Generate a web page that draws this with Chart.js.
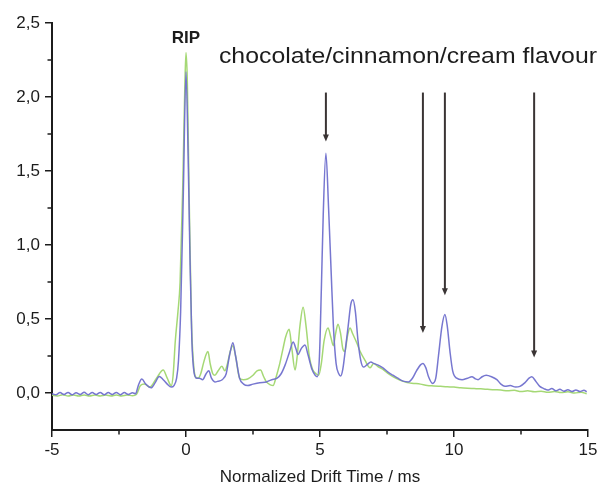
<!DOCTYPE html>
<html><head><meta charset="utf-8">
<script src="https://cdn.jsdelivr.net/npm/chart.js@4.4.1/dist/chart.umd.min.js"></script>
<style>html,body{margin:0;padding:0;background:#fff;}#wrap{width:601px;height:488px;position:relative;}</style>
</head><body><div id="wrap"><canvas id="c"></canvas></div>
<script>
// ---- data (drift time in ms, intensity) ----
const blueTime = [-5.0,-4.85,-4.7,-4.55,-4.4,-4.25,-4.1,-3.95,-3.8,-3.65,-3.5,-3.35,-3.2,-3.05,-2.9,-2.75,-2.6,-2.45,-2.3,-2.15,-2.0,-1.88,-1.78,-1.65,-1.5,-1.3,-1.15,-1.0,-0.85,-0.7,-0.55,-0.45,-0.35,-0.28,-0.2,-0.1,0,0.08,0.15,0.22,0.3,0.4,0.5,0.62,0.75,0.85,0.95,1.08,1.2,1.35,1.5,1.62,1.75,1.85,2.0,2.15,2.3,2.5,2.75,3.0,3.2,3.4,3.55,3.7,3.85,4.0,4.1,4.18,4.3,4.44,4.55,4.7,4.82,4.9,4.98,5.05,5.12,5.22,5.32,5.42,5.5,5.6,5.7,5.77,5.85,5.95,6.05,6.15,6.23,6.32,6.42,6.52,6.62,6.75,6.9,7.0,7.15,7.35,7.55,7.72,7.9,8.1,8.3,8.45,8.6,8.75,8.84,8.95,9.05,9.2,9.32,9.42,9.55,9.66,9.75,9.85,9.95,10.1,10.3,10.5,10.67,10.8,10.9,11.05,11.2,11.4,11.6,11.75,11.9,12.1,12.3,12.46,12.65,12.8,12.9,13.05,13.2,13.35,13.5,13.65,13.8,13.95,14.1,14.25,14.4,14.55,14.7,14.85,14.95];
const blueIntensity = [-0.005,-0.012,0.003,-0.01,0.004,-0.012,0.002,-0.01,0.005,-0.011,0.003,-0.01,0.004,-0.012,0.003,-0.01,0.004,-0.011,0.003,-0.01,0.002,-0.005,0.05,0.095,0.06,0.035,0.07,0.112,0.09,0.06,0.04,0.05,0.1,0.22,0.55,1.35,2.17,1.6,0.9,0.35,0.14,0.1,0.1,0.09,0.13,0.15,0.1,0.075,0.08,0.09,0.13,0.25,0.34,0.25,0.1,0.06,0.05,0.06,0.07,0.075,0.09,0.1,0.13,0.19,0.27,0.345,0.3,0.26,0.3,0.325,0.26,0.16,0.12,0.11,0.25,0.7,1.2,1.62,1.25,0.8,0.45,0.2,0.13,0.115,0.16,0.3,0.45,0.6,0.63,0.55,0.35,0.22,0.175,0.19,0.21,0.2,0.19,0.17,0.14,0.12,0.1,0.08,0.075,0.1,0.15,0.19,0.2,0.17,0.11,0.065,0.1,0.25,0.45,0.53,0.45,0.28,0.15,0.1,0.09,0.1,0.11,0.095,0.09,0.11,0.12,0.11,0.09,0.06,0.045,0.05,0.04,0.045,0.07,0.1,0.11,0.08,0.045,0.03,0.02,0.03,0.015,0.025,0.012,0.022,0.01,0.02,0.01,0.018,0.008];
const greenTime = [-5.0,-4.8,-4.6,-4.4,-4.2,-4.0,-3.8,-3.6,-3.4,-3.2,-3.0,-2.8,-2.6,-2.4,-2.2,-2.0,-1.85,-1.7,-1.55,-1.35,-1.1,-0.85,-0.7,-0.55,-0.48,-0.4,-0.3,-0.22,-0.12,-0.04,0,0.05,0.12,0.2,0.28,0.35,0.45,0.55,0.65,0.75,0.82,0.9,1.0,1.08,1.2,1.34,1.45,1.55,1.65,1.75,1.85,2.0,2.15,2.3,2.5,2.65,2.78,2.9,3.0,3.15,3.25,3.35,3.5,3.62,3.72,3.85,3.95,4.07,4.15,4.25,4.37,4.48,4.6,4.72,4.85,4.95,5.05,5.15,5.3,5.4,5.5,5.58,5.67,5.77,5.85,5.93,6.02,6.12,6.22,6.37,6.5,6.68,6.87,7.0,7.15,7.35,7.55,7.72,8.0,8.25,8.5,8.75,9.0,9.25,9.5,9.75,10.0,10.25,10.5,10.75,11.0,11.25,11.5,11.75,12.0,12.25,12.5,12.75,13.0,13.25,13.5,13.75,14.0,14.25,14.5,14.75,14.95];
const greenIntensity = [-0.015,-0.02,-0.012,-0.02,-0.013,-0.02,-0.013,-0.02,-0.013,-0.02,-0.014,-0.02,-0.013,-0.02,-0.014,-0.018,-0.01,0.05,0.06,0.04,0.1,0.155,0.1,0.05,0.12,0.35,0.55,0.75,1.4,2.1,2.3,2.1,1.3,0.5,0.2,0.11,0.1,0.13,0.2,0.26,0.28,0.2,0.13,0.12,0.15,0.18,0.15,0.2,0.28,0.32,0.25,0.1,0.09,0.095,0.12,0.15,0.155,0.11,0.075,0.055,0.05,0.1,0.2,0.3,0.38,0.43,0.3,0.155,0.25,0.45,0.58,0.45,0.25,0.16,0.13,0.12,0.2,0.35,0.44,0.38,0.32,0.4,0.465,0.4,0.3,0.28,0.38,0.44,0.4,0.34,0.28,0.22,0.17,0.2,0.18,0.16,0.13,0.11,0.085,0.07,0.065,0.06,0.05,0.048,0.045,0.042,0.04,0.035,0.032,0.03,0.028,0.025,0.022,0.02,0.015,0.018,0.01,0.015,0.008,0.012,0.005,0.01,0.003,0.008,0.0,0.005,-0.005];

// ---- axes ----
const xTicks = [-5, 0, 5, 10, 15];
const xMinorTicks = [-2.5, 2.5, 7.5, 12.5];
const yTicks = [0, 0.5, 1.0, 1.5, 2.0, 2.5];
const yMinorTicks = [0.25, 0.75, 1.25, 1.75, 2.25];
const xTitle = 'Normalized Drift Time / ms';

// ---- annotations (data coordinates) ----
const peakLabel = 'RIP';
const peakLabelAt = [0, 2.395];
const flavourLabel = 'chocolate/cinnamon/cream flavour';
const flavourLabelAt = [1.23, 2.23];
const arrowX = [5.22, 8.84, 9.66, 12.99];
const arrowTop = [2.03, 2.03, 2.03, 2.03];
const arrowTip = [1.70, 0.405, 0.66, 0.24];

const FONT = "'Liberation Sans', Arial, sans-serif";
const INK = '#1c1c1c';

const pts = (xs, ys) => xs.map((x, i) => ({x, y: ys[i]}));

const annot = {
  id: 'annot',
  afterDraw(chart) {
    const ctx = chart.ctx, xs = chart.scales.x, ys = chart.scales.y;
    ctx.save();
    // minor ticks
    ctx.strokeStyle = INK; ctx.lineWidth = 1.5;
    xMinorTicks.forEach(v => {
      const p = xs.getPixelForValue(v);
      ctx.beginPath(); ctx.moveTo(p, ys.bottom); ctx.lineTo(p, ys.bottom + 4.5); ctx.stroke();
    });
    yMinorTicks.forEach(v => {
      const p = ys.getPixelForValue(v);
      ctx.beginPath(); ctx.moveTo(xs.left, p); ctx.lineTo(xs.left - 4.5, p); ctx.stroke();
    });
    // arrows
    ctx.strokeStyle = '#3a3434'; ctx.fillStyle = '#3a3434'; ctx.lineWidth = 2;
    arrowX.forEach((v, i) => {
      const px = xs.getPixelForValue(v);
      const y0 = ys.getPixelForValue(arrowTop[i]);
      const y1 = ys.getPixelForValue(arrowTip[i]);
      ctx.beginPath(); ctx.moveTo(px, y0); ctx.lineTo(px, y1 - 6); ctx.stroke();
      ctx.beginPath(); ctx.moveTo(px - 3, y1 - 7); ctx.lineTo(px + 3, y1 - 7); ctx.lineTo(px, y1); ctx.closePath(); ctx.fill();
    });
    // labels
    ctx.fillStyle = INK;
    ctx.font = 'bold 17px ' + FONT;
    ctx.textAlign = 'center'; ctx.textBaseline = 'middle';
    ctx.fillText(peakLabel, xs.getPixelForValue(peakLabelAt[0]), ys.getPixelForValue(peakLabelAt[1]));
    ctx.font = '22px ' + FONT;
    ctx.textAlign = 'left'; ctx.textBaseline = 'alphabetic';
    const fx = xs.getPixelForValue(flavourLabelAt[0]), fy = ys.getPixelForValue(flavourLabelAt[1]);
    const w = ctx.measureText(flavourLabel).width;
    const target = chart.width - 4 - fx;
    ctx.translate(fx, fy); ctx.scale(target / w, 1);
    ctx.fillText(flavourLabel, 0, 0);
    ctx.restore();
  }
};

new Chart(document.getElementById('c'), {
  type: 'scatter',
  data: {
    datasets: [
      {data: pts(blueTime, blueIntensity), borderColor: 'rgba(112,112,206,0.95)', borderWidth: 1.5, showLine: true, pointRadius: 0, cubicInterpolationMode: 'monotone'},
      {data: pts(greenTime, greenIntensity), borderColor: 'rgba(160,214,110,0.95)', borderWidth: 1.5, showLine: true, pointRadius: 0, cubicInterpolationMode: 'monotone'}
    ]
  },
  options: {
    responsive: true, maintainAspectRatio: false, animation: false,
    layout: {padding: {top: 23, right: 13, left: 0, bottom: 0}},
    plugins: {legend: {display: false}, tooltip: {enabled: false}},
    scales: {
      x: {
        type: 'linear', min: -5, max: 15,
        afterBuildTicks: s => { s.ticks = xTicks.map(v => ({value: v})); },
        afterFit: s => { s.height = 58; },
        border: {display: true, color: INK, width: 2},
        grid: {display: true, drawOnChartArea: false, drawTicks: true, tickLength: 7, color: INK, lineWidth: 1.5},
        ticks: {color: INK, font: {family: FONT, size: 17}, padding: 3, maxRotation: 0, callback: v => String(v)},
        title: {display: true, text: xTitle, color: INK, font: {family: FONT, size: 17}, padding: {top: 0, bottom: 0}}
      },
      y: {
        type: 'linear', min: -0.25, max: 2.5,
        afterBuildTicks: s => { s.ticks = yTicks.map(v => ({value: v})); },
        afterFit: s => { s.width = 52; },
        border: {display: true, color: INK, width: 2},
        grid: {display: true, drawOnChartArea: false, drawTicks: true, tickLength: 7, color: INK, lineWidth: 1.5},
        ticks: {color: INK, font: {family: FONT, size: 17}, padding: 5, callback: v => v.toFixed(1).replace('.', ',')}
      }
    }
  },
  plugins: [annot]
});
</script></body></html>
